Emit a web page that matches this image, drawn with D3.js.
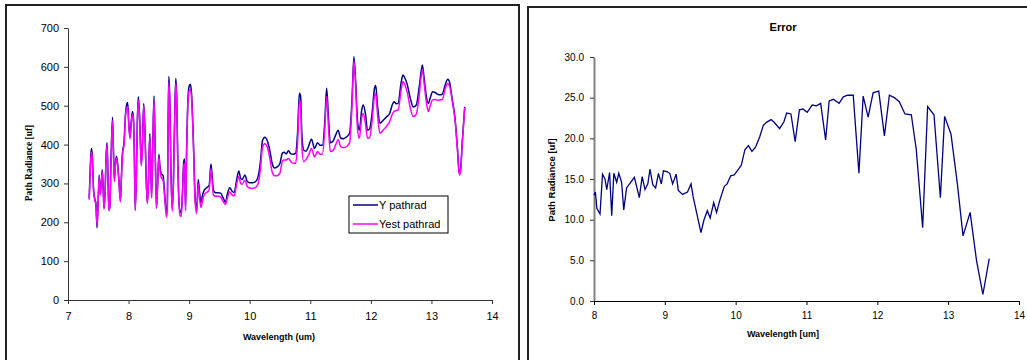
<!DOCTYPE html>
<html>
<head>
<meta charset="utf-8">
<script src="https://cdn.jsdelivr.net/npm/d3@7"></script>
<style>
  html, body { margin: 0; padding: 0; background: #fff; }
  svg { display: block; }
  text { font-family: "Liberation Sans", Arial, sans-serif; fill: #000; }
</style>
</head>
<body>
<svg id="chart" width="1027" height="360"></svg>
<script>
// ---- Path radiance spectrum (left panel) ----
const pathWavelength = [
  7.35, 7.37, 7.385, 7.40, 7.42, 7.44, 7.46, 7.48, 7.50, 7.515, 7.53, 7.55, 7.565, 7.58, 7.595, 7.61,
  7.63, 7.645, 7.66, 7.675, 7.69, 7.71, 7.735, 7.75, 7.765, 7.785, 7.80, 7.82, 7.84, 7.865, 7.88, 7.90,
  7.925, 7.95, 7.965, 7.985, 8.005, 8.025, 8.045, 8.065, 8.08, 8.095, 8.11, 8.13, 8.145, 8.16, 8.18, 8.20,
  8.21, 8.225, 8.25, 8.27, 8.29, 8.31, 8.325, 8.35, 8.365, 8.38, 8.40, 8.42, 8.44, 8.46, 8.48, 8.50,
  8.52, 8.54, 8.57, 8.60, 8.625, 8.64, 8.655, 8.665, 8.68, 8.70, 8.72, 8.74, 8.765, 8.78, 8.795, 8.81,
  8.83, 8.85, 8.87, 8.89, 8.91, 8.925, 8.94, 8.96, 8.98, 9.00, 9.02, 9.04, 9.07, 9.10, 9.125, 9.15,
  9.17, 9.195, 9.22, 9.25, 9.29, 9.33, 9.36, 9.38, 9.40, 9.44, 9.48, 9.52, 9.555, 9.60, 9.63, 9.67,
  9.71, 9.745, 9.78, 9.82, 9.85, 9.875, 9.92, 9.96, 10.00, 10.05, 10.10, 10.14, 10.18, 10.21, 10.25, 10.29,
  10.33, 10.37, 10.41, 10.45, 10.50, 10.54, 10.57, 10.60, 10.64, 10.68, 10.72, 10.76, 10.79, 10.82, 10.84, 10.86,
  10.89, 10.93, 10.97, 11.02, 11.07, 11.12, 11.16, 11.20, 11.24, 11.27, 11.30, 11.33, 11.38, 11.42, 11.46, 11.50,
  11.55, 11.60, 11.65, 11.69, 11.72, 11.75, 11.78, 11.81, 11.85, 11.875, 11.91, 11.945, 11.98, 12.02, 12.06, 12.08,
  12.11, 12.15, 12.20, 12.25, 12.31, 12.36, 12.385, 12.42, 12.45, 12.50, 12.53, 12.56, 12.60, 12.65, 12.70, 12.75,
  12.80, 12.85, 12.88, 12.92, 12.95, 12.98, 13.02, 13.06, 13.10, 13.14, 13.18, 13.23, 13.27, 13.30, 13.34, 13.39,
  13.43, 13.46, 13.48, 13.51, 13.55
];
const yPathrad = [
  262, 350, 390, 375, 290, 262, 250, 186, 265, 322, 275, 300, 335, 290, 236, 270,
  375, 405, 320, 232, 240, 360, 470, 390, 310, 355, 370, 350, 310, 255, 310, 380,
  405, 480, 500, 508, 450, 420, 460, 485, 470, 380, 232, 330, 460, 523, 480, 385,
  352, 380, 506, 440, 320, 250, 290, 428, 360, 265, 400, 525, 380, 238, 300, 375,
  340, 325, 320, 265, 225, 240, 480, 575, 520, 330, 235, 300, 500, 570, 520, 380,
  260, 228, 225, 280, 355, 363, 232, 400, 515, 550, 555, 530, 410, 260, 230, 310,
  280, 250, 270, 283, 289, 295, 350, 320, 282, 276, 276, 275, 265, 252, 272, 289,
  280, 277, 305, 332, 313, 310, 322, 305, 302, 302, 305, 318, 360, 410, 419, 410,
  386, 352, 340, 342, 352, 378, 380, 376, 384, 376, 375, 378, 430, 532, 525, 430,
  386, 383, 395, 414, 390, 405, 398, 398, 460, 545, 470, 405, 410, 425, 437, 417,
  415, 420, 430, 520, 626, 560, 460, 437, 490, 502, 480, 437, 440, 480, 545, 552,
  500, 455, 462, 470, 480, 505, 510, 505, 506, 560, 579, 572, 555, 520, 497, 502,
  550, 605, 570, 520, 506, 520, 536, 534, 530, 528, 530, 555, 568, 560, 520, 467,
  390, 326, 335, 410, 497
];
const yestPathrad = [
  258, 340, 380, 368, 285, 258, 245, 192, 260, 318, 270, 295, 330, 285, 234, 265,
  370, 398, 315, 230, 237, 352, 462, 380, 305, 350, 365, 345, 305, 252, 305, 375,
  400, 475, 492, 498, 445, 415, 455, 478, 465, 375, 230, 325, 455, 515, 475, 380,
  345, 375, 500, 435, 315, 248, 285, 420, 355, 262, 395, 515, 375, 235, 295, 368,
  330, 315, 308, 255, 213, 228, 470, 560, 510, 325, 228, 295, 490, 558, 510, 375,
  255, 218, 215, 270, 345, 352, 230, 390, 505, 538, 542, 520, 400, 250, 222, 300,
  265, 238, 255, 272, 277, 283, 338, 305, 270, 267, 267, 265, 255, 246, 262, 278,
  270, 268, 295, 318, 300, 298, 308, 292, 288, 287, 290, 300, 342, 392, 402, 394,
  366, 330, 320, 320, 327, 358, 360, 360, 364, 356, 352, 352, 405, 512, 505, 400,
  356, 362, 372, 390, 368, 382, 375, 375, 440, 523, 445, 382, 385, 400, 413, 395,
  392, 395, 405, 505, 616, 545, 440, 416, 470, 480, 455, 416, 418, 460, 525, 532,
  478, 429, 437, 445, 459, 480, 485, 488, 489, 540, 562, 555, 535, 495, 472, 478,
  530, 592, 556, 505, 485, 500, 515, 516, 514, 515, 516, 545, 557, 550, 515, 462,
  385, 322, 330, 405, 495
];
const pathTicksX = [7, 8, 9, 10, 11, 12, 13, 14];
const pathTicksY = [0, 100, 200, 300, 400, 500, 600, 700];
const seriesNames = ["Y pathrad", "Yest pathrad"];

// ---- Error between measured and estimated path radiance (right panel) ----
const errWavelength = [
  8.00, 8.02, 8.04, 8.085, 8.12, 8.155, 8.18, 8.22, 8.25, 8.28, 8.32, 8.35, 8.39, 8.42, 8.46, 8.57,
  8.64, 8.68, 8.72, 8.76, 8.79, 8.83, 8.87, 8.91, 8.95, 8.98, 9.03, 9.07, 9.11, 9.16, 9.19, 9.25,
  9.32, 9.37, 9.40, 9.51, 9.55, 9.60, 9.64, 9.69, 9.73, 9.78, 9.84, 9.88, 9.93, 9.98, 10.04, 10.08,
  10.13, 10.18, 10.23, 10.28, 10.34, 10.39, 10.44, 10.50, 10.54, 10.62, 10.68, 10.72, 10.78, 10.84, 10.90, 10.95,
  11.01, 11.08, 11.14, 11.20, 11.27, 11.32, 11.38, 11.46, 11.52, 11.58, 11.66, 11.74, 11.80, 11.87, 11.94, 12.02,
  12.10, 12.17, 12.24, 12.31, 12.39, 12.48, 12.55, 12.64, 12.71, 12.80, 12.89, 12.95, 13.04, 13.13, 13.21, 13.31,
  13.40, 13.49, 13.58
];
const errValues = [
  13.0, 13.4, 11.4, 10.7, 15.6, 15.0, 13.7, 15.8, 10.5, 15.7, 14.6, 15.7, 14.6, 11.2, 13.9, 15.2,
  12.7, 15.3, 13.7, 14.4, 16.2, 14.3, 13.9, 15.7, 14.4, 16.0, 15.9, 15.7, 14.4, 15.6, 13.6, 13.1,
  13.4, 14.4, 12.8, 8.4, 9.9, 11.1, 10.2, 12.1, 10.9, 12.5, 14.1, 14.4, 15.4, 15.5, 16.2, 16.7,
  18.6, 19.1, 18.4, 18.9, 20.2, 21.6, 22.0, 22.3, 22.0, 21.2, 22.0, 23.1, 23.0, 19.6, 23.5, 23.6,
  23.2, 24.1, 24.0, 24.3, 19.8, 24.6, 24.8, 24.3, 25.1, 25.3, 25.3, 15.7, 25.2, 22.6, 25.6, 25.8,
  20.3, 25.3, 25.0, 24.5, 23.0, 22.9, 18.6, 9.0, 23.9, 22.9, 12.7, 22.7, 20.5, 14.4, 8.0, 10.9,
  5.0, 0.8, 5.2
];
const errTicksX = [8, 9, 10, 11, 12, 13, 14];
const errTicksY = [0, 5, 10, 15, 20, 25, 30];

const svg = d3.select("#chart");

// Panel frames
svg.append("rect").attr("x", 6).attr("y", 5).attr("width", 513).attr("height", 380)
  .attr("fill", "#fff").attr("stroke", "#222").attr("stroke-width", 2);
svg.append("rect").attr("x", 528).attr("y", 7).attr("width", 520).attr("height", 380)
  .attr("fill", "#fff").attr("stroke", "#222").attr("stroke-width", 2);

function styleAxis(g, color) {
  g.selectAll(".domain").attr("stroke", color).attr("stroke-width", 1);
  g.selectAll(".tick line").attr("stroke", color);
  g.selectAll(".tick text").attr("fill", "#000")
    .style("font-family", '"Liberation Sans", Arial, sans-serif');
}

// ================= Left panel =================
const xL = d3.scaleLinear().domain([7, 14]).range([68, 492]);
const yL = d3.scaleLinear().domain([0, 700]).range([300, 28]);

const left = svg.append("g");

const gxL = left.append("g").attr("transform", "translate(0,300)")
  .call(d3.axisBottom(xL).tickValues(pathTicksX).tickFormat(d3.format("d"))
    .tickSize(4).tickSizeOuter(0).tickPadding(8));
gxL.selectAll(".tick text").style("font-size", "11px");
styleAxis(gxL, "#333");

const gyL = left.append("g").attr("transform", "translate(68,0)")
  .call(d3.axisLeft(yL).tickValues(pathTicksY).tickFormat(d3.format("d"))
    .tickSize(4).tickSizeOuter(0).tickPadding(5));
gyL.selectAll(".tick text").style("font-size", "11px");
styleAxis(gyL, "#333");

const lineL = (vals) => d3.line()
  .x((d, i) => xL(pathWavelength[i]))
  .y(d => yL(d))
  .curve(d3.curveMonotoneX)(vals);

left.append("path").attr("d", lineL(yPathrad))
  .attr("fill", "none").attr("stroke", "#000080").attr("stroke-width", 1.5);
left.append("path").attr("d", lineL(yestPathrad))
  .attr("fill", "none").attr("stroke", "#ff00ff").attr("stroke-width", 1.5);

left.append("text").attr("x", 279).attr("y", 340).attr("text-anchor", "middle")
  .style("font-size", "9px").style("font-weight", "bold").text("Wavelength (um)");
left.append("text")
  .attr("transform", "translate(32,163) rotate(-90)")
  .attr("text-anchor", "middle")
  .style("font-family", '"Liberation Serif", "Times New Roman", serif')
  .style("font-size", "9.5px").style("font-weight", "bold")
  .text("Path Radiance [uf]");

// Legend
const legend = left.append("g");
legend.append("rect").attr("x", 349).attr("y", 196).attr("width", 99).attr("height", 37)
  .attr("fill", "#fff").attr("stroke", "#000").attr("stroke-width", 1);
const legendColors = ["#000080", "#ff00ff"];
seriesNames.forEach((name, i) => {
  const y = 205 + i * 19;
  legend.append("line").attr("x1", 353).attr("x2", 378).attr("y1", y).attr("y2", y)
    .attr("stroke", legendColors[i]).attr("stroke-width", 1.5);
  legend.append("text").attr("x", 379).attr("y", y + 4)
    .style("font-size", "11px").text(name);
});

// ================= Right panel =================
const xR = d3.scaleLinear().domain([8, 14]).range([594, 1019]);
const yR = d3.scaleLinear().domain([0, 30]).range([301, 57]);

const right = svg.append("g");

const gyR = right.append("g").attr("transform", "translate(594,0)")
  .call(d3.axisLeft(yR).tickValues(errTicksY).tickFormat(d3.format(".1f"))
    .tickSize(4).tickSizeOuter(0).tickPadding(6));
gyR.selectAll(".tick text").style("font-size", "10px");
styleAxis(gyR, "#333");
gyR.select(".domain").attr("stroke", "#808080").attr("stroke-width", 2);

const gxR = right.append("g").attr("transform", "translate(0,301)")
  .call(d3.axisBottom(xR).tickValues(errTicksX).tickFormat(d3.format("d"))
    .tickSize(4).tickSizeOuter(0).tickPadding(7));
gxR.selectAll(".tick text").style("font-size", "10px");
styleAxis(gxR, "#000");

right.append("path")
  .attr("d", d3.line().x((d, i) => xR(errWavelength[i])).y(d => yR(d))(errValues))
  .attr("fill", "none").attr("stroke", "#000080").attr("stroke-width", 1.3);

right.append("text").attr("x", 783).attr("y", 31).attr("text-anchor", "middle")
  .style("font-size", "11px").style("font-weight", "bold").text("Error");
right.append("text").attr("x", 783).attr("y", 337).attr("text-anchor", "middle")
  .style("font-size", "9px").style("font-weight", "bold").text("Wavelength [um]");
right.append("text")
  .attr("transform", "translate(555,180) rotate(-90)")
  .attr("text-anchor", "middle")
  .style("font-size", "9.5px").style("font-weight", "bold")
  .text("Path Radiance [uf]");
</script>
</body>
</html>
